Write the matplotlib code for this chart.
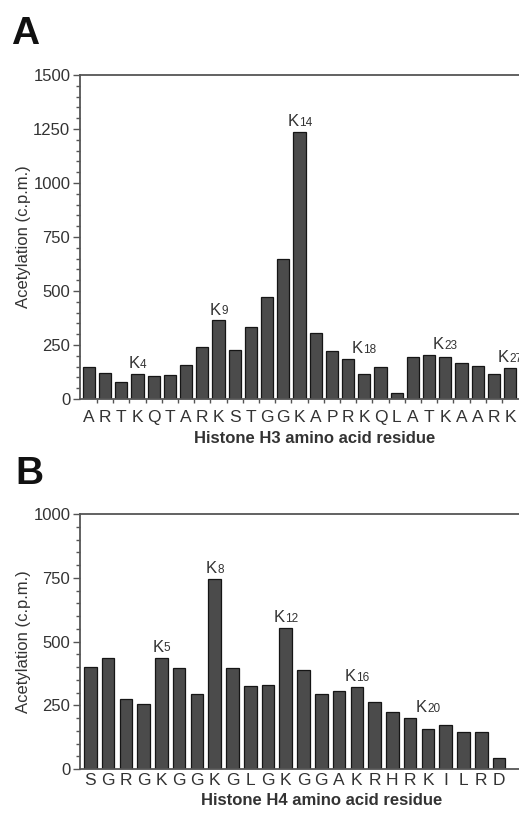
import matplotlib

matplotlib.use("Agg")
import matplotlib.pyplot as plt
from matplotlib.ticker import MultipleLocator

plt.rcParams["font.family"] = ["Liberation Sans", "DejaVu Sans"]

# Histone H3 (panel A)
h3_residues = list("ARTKQTARKSTGGKAPRKQLATKAARK")
h3_values = [150, 122, 80, 116, 105, 112, 159, 242, 364, 225, 335, 472, 646,
             1235, 307, 222, 185, 116, 150, 29, 193, 205, 193, 165, 153, 116, 143]
h3_lys_idx = [3, 8, 13, 17, 22, 26]
h3_lys_num = ["4", "9", "14", "18", "23", "27"]

# Histone H4 (panel B)
h4_residues = list("SGRGKGGKGLGKGGAKRHRKILRD")
h4_values = [399, 435, 276, 253, 437, 397, 295, 745, 398, 326, 331, 554, 387,
             295, 306, 322, 264, 225, 199, 157, 174, 145, 145, 43]
h4_lys_idx = [4, 7, 11, 15, 19]
h4_lys_num = ["5", "8", "12", "16", "20"]

TXT = "#333333"
SPINE = "#555555"
W, H = 519, 816


def lys_label(ax, x, y, num):
    # "K" with a smaller residue number, centred over the bar as a whole
    shift = -len(num) * 2.4
    k = ax.annotate("K", xy=(x, y), xytext=(shift, 2.0), textcoords="offset points",
                    ha="center", va="bottom", fontsize=12, color=TXT)
    ax.annotate(num, xy=(1, 0), xycoords=k, xytext=(0.2, 0.3),
                textcoords="offset points", ha="left", va="bottom",
                fontsize=8.5, color=TXT)


def panel(fig, rect, residues, values, lys_idx, lys_num, ymax, xlim, bar_w,
          xlabel, label_xy, tick_pad, minor_x, letter, letter_xy):
    ax = fig.add_axes(rect)
    xs = range(len(residues))
    ax.bar(xs, values, width=bar_w, color="#4b4b4b", edgecolor="#151515",
           linewidth=0.9, zorder=2)
    ax.set_xlim(*xlim)
    ax.set_ylim(0, ymax)
    ax.yaxis.set_major_locator(MultipleLocator(250))
    ax.yaxis.set_minor_locator(MultipleLocator(50))
    ax.tick_params(axis="y", which="major", direction="out", length=5,
                   width=1.0, color=SPINE, labelsize=12, labelcolor=TXT, pad=2)
    ax.tick_params(axis="y", which="minor", direction="out", length=3,
                   width=1.0, color=SPINE)
    ax.set_xticks(list(xs), residues)
    ax.tick_params(axis="x", length=0, labelsize=12.5, labelcolor=TXT,
                   pad=tick_pad)
    if minor_x:
        ax.set_xticks([i + 0.5 for i in range(len(residues) - 1)], minor=True)
        ax.tick_params(axis="x", which="minor", direction="out", length=3,
                       width=1.0, color=SPINE)
    for sp in ("left", "bottom", "top"):
        ax.spines[sp].set_color(SPINE)
        ax.spines[sp].set_linewidth(1.3)
    ax.spines["right"].set_visible(False)
    ax.set_ylabel("Acetylation (c.p.m.)", fontsize=12, color=TXT, labelpad=1.5)
    ax.set_xlabel(xlabel, fontsize=12, fontweight="bold", color=TXT)
    ax.xaxis.set_label_coords(*label_xy)
    # label floats above the taller of the lysine bar and its left neighbour
    for i, n in zip(lys_idx, lys_num):
        lys_label(ax, i, max(values[i], values[i - 1]), n)
    fig.text(letter_xy[0] / W, 1 - letter_xy[1] / H, letter, fontsize=28,
             fontweight="bold", color="#111111", va="top", ha="left")
    return ax


fig = plt.figure(figsize=(W / 100, H / 100), dpi=100)
panel(fig, [80 / W, 1 - 399 / H, 441 / W, 324 / H], h3_residues, h3_values,
      h3_lys_idx, h3_lys_num, 1500, (-0.55, 26.67), 0.76,
      "Histone H3 amino acid residue", (0.533, -0.098), 8.0, True, "A", (11, 16))
panel(fig, [80 / W, 1 - 769 / H, 441 / W, 255 / H], h4_residues, h4_values,
      h4_lys_idx, h4_lys_num, 1000, (-0.58, 24.24), 0.71,
      "Histone H4 amino acid residue", (0.549, -0.094), 2.7, False, "B", (15, 456))

fig.savefig("out.png", dpi=100)
